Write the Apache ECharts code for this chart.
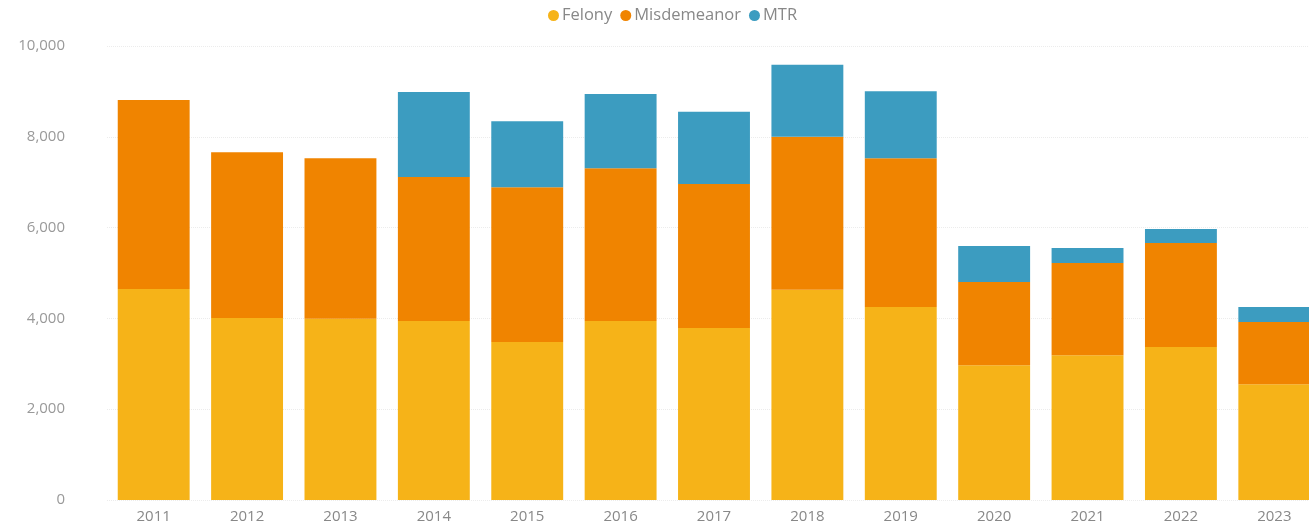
<!DOCTYPE html>
<html>
<head>
<meta charset="utf-8">
<script src="https://cdn.jsdelivr.net/npm/echarts@6/dist/echarts.min.js"></script>
<style>
  html, body { margin: 0; padding: 0; background: #fff; overflow: hidden; }
  #chart { width: 1322px; height: 529px; }
</style>
</head>
<body>
<div id="chart"></div>
<script>
// years on x axis
const years = ['2011', '2012', '2013', '2014', '2015', '2016', '2017', '2018', '2019', '2020', '2021', '2022', '2023'];
// stacked counts
const felony = [4650, 4010, 3990, 3940, 3480, 3940, 3790, 4630, 4250, 2970, 3190, 3370, 2550];
const misdemeanor = [4160, 3650, 3540, 3175, 3410, 3370, 3170, 3370, 3280, 1830, 2030, 2290, 1370];
const mtr = [0, 0, 0, 1870, 1455, 1630, 1590, 1585, 1475, 795, 330, 310, 330];

const colors = ['#F6B318', '#F08400', '#3C9CC0'];
const fontFam = '"Open Sans", "Noto Sans", sans-serif';

const chart = echarts.init(document.getElementById('chart'));

const makeSeries = (name, data) => ({
  name: name,
  type: 'bar',
  stack: 'total',
  barCategoryGap: '23%',
  data: data,
});

chart.setOption({
  animation: false,
  color: colors,
  textStyle: { fontFamily: fontFam },
  legend: {
    left: 543,
    top: 2,
    icon: 'circle',
    itemWidth: 11,
    itemHeight: 11,
    itemGap: 8,
    textStyle: { color: '#888', fontSize: 16.5, fontFamily: fontFam, padding: [0, 0, 0, -2] },
    data: ['Felony', 'Misdemeanor', 'MTR'],
  },
  grid: { left: 107, right: 1, top: 46, bottom: 29 },
  xAxis: {
    type: 'category',
    data: years,
    axisLine: { show: false },
    axisTick: { show: false },
    axisLabel: { color: '#888', fontSize: 15, margin: 9 },
  },
  yAxis: {
    type: 'value',
    min: 0,
    max: 10000,
    interval: 2000,
    axisLabel: {
      color: '#999',
      fontSize: 15,
      margin: 42,
      formatter: (v) => v.toLocaleString('en-US'),
    },
    splitLine: { lineStyle: { color: '#ececec', type: 'dotted', width: 1 } },
  },
  series: [
    makeSeries('Felony', felony),
    makeSeries('Misdemeanor', misdemeanor),
    makeSeries('MTR', mtr),
  ],
});
</script>
</body>
</html>
